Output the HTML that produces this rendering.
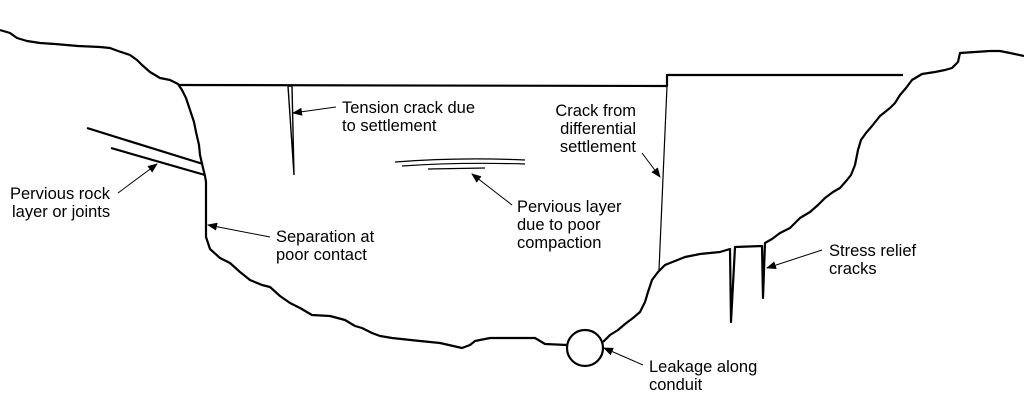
<!DOCTYPE html>
<html><head><style>html,body{margin:0;padding:0;background:#fff;width:1024px;height:420px;overflow:hidden}</style></head>
<body>
<svg width="1024" height="420" viewBox="0 0 1024 420" xmlns="http://www.w3.org/2000/svg">
<defs><marker id="a" markerWidth="10" markerHeight="8" refX="9" refY="4" orient="auto" markerUnits="userSpaceOnUse"><path d="M0,0 L10,4 L0,8 Z" fill="#000"/></marker></defs>
<g fill="none" stroke="#000" stroke-width="2.2" stroke-linejoin="round">
<polyline points="0,30 10,33 17,38 27,41 40,43 55,44 78,46 100,47 110,48 118,51 130,55 137,60 142,65 150,72 160,78 170,80 178,84 182,90 186,98 190,110 194,122 196,132 199,145 200,155 203,168 205,176 206,182 206,237 210,249 220,258 230,263 240,272 250,280 262,285 270,287 280,296 290,303 300,308 312,315 330,316 345,320 355,326 362,328 372,333 380,336 392,338 420,341 440,343 462,348 470,345 475,341 490,338 535,338 545,344 567,345"/>
<circle cx="585" cy="348" r="18"/>
<polyline points="603,342 610,335 618,330 625,324 633,318 640,312 645,302 648,292 652,280 658,272 665,265 675,261 685,257 700,254 720,252 730,249 731,322 735,247 762,246 763,298 765,243 772,239 780,233 790,228 800,218 810,212 818,205 825,198 833,192 840,188 847,180 851,175 855,165 858,150 861,140 866,133 872,126 880,116 890,108 895,103 900,95 906,88 912,80 922,74 935,72 945,70 952,68 958,62 960,53 975,52 990,51 1000,51 1010,53 1024,56"/>
<polyline points="178,85 667,86 667,75 903,75"/>
<line x1="87" y1="128" x2="203" y2="164"/>
<line x1="111" y1="148" x2="205" y2="175"/>
</g>
<g fill="none" stroke="#000" stroke-width="1.2">
<path d="M288,86 L294,175 L292,86 Z" stroke-width="1.4"/>
<line x1="667" y1="86" x2="659" y2="270"/>
<path d="M395,162 Q460,157 525,160"/>
<path d="M402,166 Q460,162 525,164"/>
<path d="M428,169 L485,168"/>
</g>
<g stroke="#000" stroke-width="1" marker-end="url(#a)">
<line x1="336" y1="107" x2="293" y2="113"/>
<line x1="118" y1="193" x2="157" y2="164"/>
<line x1="270" y1="237" x2="208" y2="225"/>
<line x1="512" y1="205" x2="472" y2="174"/>
<line x1="642" y1="153" x2="660" y2="177"/>
<line x1="822" y1="250" x2="767" y2="268"/>
<line x1="643" y1="365" x2="604" y2="348"/>
</g>
<g font-family="Liberation Sans, sans-serif" font-size="16.5" fill="#000">
<text x="342" y="113">Tension crack due</text><text x="342" y="131">to settlement</text>
<text x="10" y="199">Pervious rock</text><text x="12" y="217">layer or joints</text>
<text x="276" y="242">Separation at</text><text x="276" y="260">poor contact</text>
<text x="517" y="212">Pervious layer</text><text x="517" y="230">due to poor</text><text x="517" y="248">compaction</text>
<text x="636" y="116" text-anchor="end">Crack from</text><text x="636" y="134" text-anchor="end">differential</text><text x="636" y="152" text-anchor="end">settlement</text>
<text x="829" y="256">Stress relief</text><text x="829" y="274">cracks</text>
<text x="649" y="372">Leakage along</text><text x="649" y="390">conduit</text>
</g>
</svg>
</body></html>
